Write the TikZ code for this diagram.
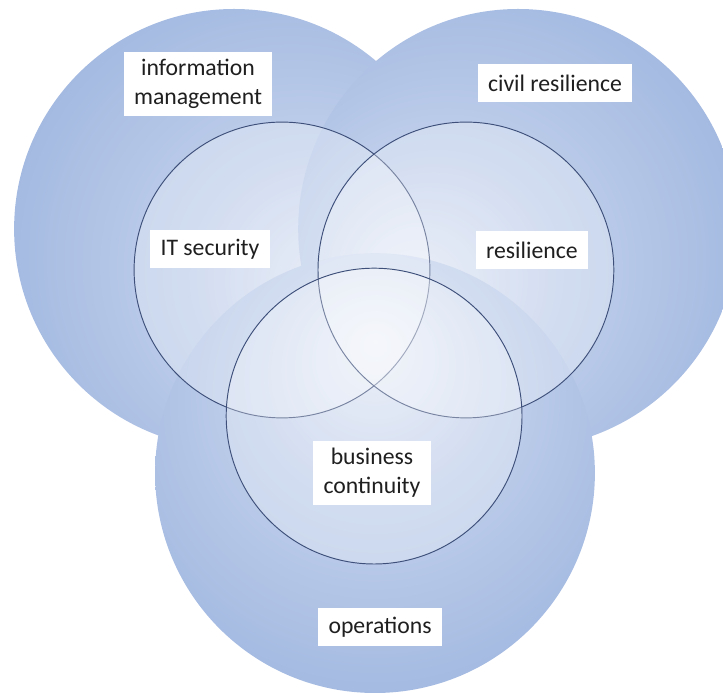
\documentclass[tikz,border=0pt]{standalone}
\usepackage{fontspec}
\setmainfont{Carlito}
\usepackage{tikz}

\definecolor{venndark}{RGB}{164,186,225}
\definecolor{vennmid}{RGB}{192,207,235}
\definecolor{vennlight}{RGB}{228,234,246}
\definecolor{ringblue}{RGB}{62,80,122}

% light spot sits off centre, turned towards the middle of the diagram
\pgfdeclareradialshading{vennglow}{\pgfpoint{0bp}{15bp}}{color(0bp)=(vennlight); color(14bp)=(vennmid); color(31bp)=(venndark); color(50bp)=(venndark)}

\tikzset{
  fieldshade/.style={shading=vennglow},
  fieldring/.style={draw=ringblue, line width=0.9pt, fill=white, fill opacity=0.3},
  fieldtag/.style={fill=white, text=black!88, font=\fontsize{22.5}{27.5}\selectfont,
    inner xsep=0.34cm, inner ysep=0.24cm, minimum height=1.27cm, align=center},
}

\begin{document}
\begin{tikzpicture}
  \useasboundingbox (0,0) rectangle (24.1,23.1);

  % outer domains
  \shade[fieldshade, shading angle=-120] (7.8,15.47) circle (7.33);
  \shade[fieldshade, shading angle=120] (17.27,15.47) circle (7.33);
  \shade[fieldshade] (12.5,7.33) circle (7.33);

  % inner fields
  \draw[fieldring] (9.4,14.1) circle (4.93);
  \draw[fieldring] (15.53,14.1) circle (4.93);
  \draw[fieldring] (12.47,9.23) circle (4.93);

  % labels
  \node[fieldtag] (infomgmt) at (6.6,20.3) {information\\management};
  \node[fieldtag] (civres) at (18.5,20.33) {civil resilience};
  \node[fieldtag] (itsec) at (7.0,14.8) {IT security};
  \node[fieldtag] (resil) at (17.73,14.77) {resilience};
  \node[fieldtag] (bizcont) at (12.4,7.33) {business\\continuity};
  \node[fieldtag] (ops) at (12.67,2.2) {operations};
\end{tikzpicture}
\end{document}
